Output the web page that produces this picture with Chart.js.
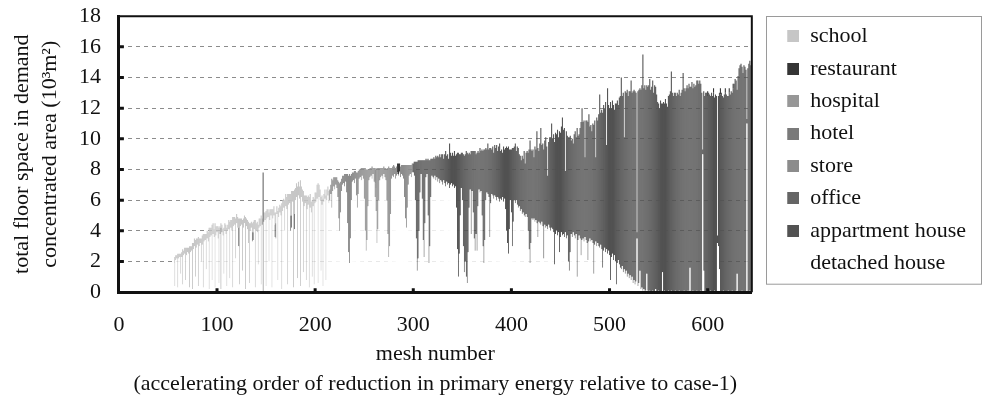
<!DOCTYPE html>
<html>
<head>
<meta charset="utf-8">
<title>total floor space in demand concentrated area</title>
<script src="https://cdn.jsdelivr.net/npm/chart.js@4.4.1/dist/chart.umd.min.js"></script>
<style>
  html, body { margin: 0; padding: 0; background: #fff; }
</style>
</head>
<body>
<canvas id="floorChart" width="983" height="399"></canvas>
<script>
// floor space per mesh (10^3 m2), mesh number = start + index
const detachedStart = 1;
const detachedHouse = [
  // 1-20
  0.3, 0.2, 0.4, 0.3, 0.5, 0.4, 0.6, 0.5, 0.7, 0.6, 0.6, 0.8, 0.7, 0.9, 0.8, 1.0, 0.9, 1.1, 1.0, 1.2,
  // 21-40
  1.1, 1.3, 1.2, 1.4, 1.2, 1.5, 1.3, 1.4, 1.6, 1.4, 1.5, 1.7, 1.5, 1.6, 1.8, 1.6, 1.7, 1.8, 1.6, 1.9,
  // 41-60
  1.7, 1.8, 1.9, 1.7, 1.8, 1.9, 1.8, 1.9, 1.8, 1.9, 1.9, 1.8, 1.9, 1.9, 1.9, 1.9, 0.4, 2.1, 2.2, 0.3,
  // 61-80
  2.2, 2.3, 1.2, 2.3, 0.5, 2.4, 2.5, 0.8, 2.4, 2.6, 2.5, 0.3, 2.6, 2.7, 0.2, 2.8, 3.0, 1.0, 2.9, 3.1,
  // 81-100
  0.4, 3.0, 3.2, 2.0, 3.1, 0.3, 3.3, 3.4, 1.5, 3.5, 3.3, 0.2, 3.6, 3.7, 0.8, 3.8, 3.6, 0.3, 3.7, 3.9,
  // 101-120
  3.5, 0.6, 3.8, 0.2, 3.9, 3.7, 1.2, 4.0, 3.8, 0.4, 4.0, 4.1, 0.9, 4.2, 4.0, 0.3, 4.3, 4.4, 2.2, 4.5,
  // 121-140
  4.2, 3.0, 0.5, 4.3, 4.4, 1.4, 4.2, 4.5, 0.2, 4.3, 4.1, 3.2, 0.6, 4.0, 4.2, 3.3, 3.4, 4.1, 0.3, 4.0,
  // 141-160
  3.9, 1.8, 4.2, 4.3, 0.5, 4.4, 0, 4.6, 4.7, 0.4, 4.8, 4.9, 2.0, 4.7, 5.0, 0.3, 4.8, 5.0, 3.6, 3.5,
  // 161-180
  5.1, 0.8, 4.9, 5.2, 5.0, 0.2, 5.3, 5.5, 4.0, 5.6, 5.4, 0.5, 5.7, 5.8, 4.0, 4.2, 5.9, 0.3, 4.1, 6.0,
  // 181-200
  6.2, 0.9, 6.3, 6.1, 0.4, 6.2, 5.9, 1.3, 5.6, 5.8, 0.8, 5.4, 5.7, 0.3, 5.5, 5.2, 1.0, 5.6, 0.5, 5.8,
  // 201-220
  5.9, 6.1, 0.6, 6.2, 6.0, 1.4, 5.7, 0.4, 5.9, 6.1, 0.8, 6.0, 6.3, 5.8, 6.0, 6.4, 5.5, 6.6, 6.9, 6.7,
  // 221-240
  7.0, 6.8, 6.2, 4.8, 4.0, 5.2, 6.6, 7.0, 7.1, 6.9, 7.2, 6.5, 4.5, 2.6, 1.9, 3.5, 6.0, 7.2, 7.3, 7.1,
  // 241-260
  7.4, 6.3, 5.5, 6.4, 7.4, 7.5, 7.3, 7.6, 7.4, 6.1, 4.0, 2.7, 3.4, 5.6, 7.3, 7.5, 7.6, 7.4, 7.7, 7.2,
  // 261-280
  6.2, 5.3, 3.2, 4.1, 6.0, 7.3, 7.5, 7.6, 7.4, 7.7, 7.5, 7.3, 6.0, 3.8, 2.3, 3.0, 5.1, 7.4, 7.6, 7.5,
  // 281-300
  7.7, 7.4, 7.6, 7.7, 7.6, 7.8, 7.5, 7.7, 7.6, 7.4, 6.2, 4.8, 4.2, 5.5, 7.0, 7.6, 7.7, 7.5, 7.8, 7.8,
  // 301-320
  7.6, 6.0, 3.5, 1.4, 2.2, 4.0, 6.5, 7.7, 6.1, 3.4, 2.3, 4.5, 7.5, 7.7, 5.0, 1.9, 3.0, 6.2, 7.6, 7.5,
  // 321-340
  7.4, 7.6, 7.3, 7.5, 7.2, 7.4, 7.1, 7.3, 7.2, 7.0, 7.3, 7.1, 6.9, 7.2, 7.0, 7.1, 6.8, 7.0, 7.1, 6.9,
  // 341-360
  7.0, 6.8, 6.9, 5.5, 2.8, 1.0, 2.5, 5.0, 6.8, 6.0, 3.0, 1.3, 2.0, 1.0, 0.6, 2.6, 5.5, 6.7, 3.8, 6.6,
  // 361-380
  5.2, 3.5, 2.7, 3.8, 2.7, 5.6, 6.7, 6.5, 6.6, 5.0, 3.0, 1.9, 3.4, 6.0, 6.5, 6.4, 6.2, 3.6, 5.8, 6.4,
  // 381-400
  6.3, 6.1, 6.3, 6.2, 6.0, 6.2, 6.1, 5.9, 6.1, 6.0, 6.2, 5.9, 6.1, 5.4, 4.0, 3.2, 2.5, 4.1, 6.0, 5.2,
  // 401-420
  3.0, 4.6, 6.0, 5.8, 6.0, 5.7, 5.5, 5.6, 5.3, 5.4, 5.1, 5.2, 5.0, 4.9, 5.1, 4.9, 4.0, 2.8, 1.9, 3.2,
  // 421-440
  4.8, 4.7, 4.8, 4.6, 4.7, 4.5, 3.6, 4.6, 4.5, 4.4, 4.6, 4.3, 2.2, 4.4, 4.2, 4.3, 4.1, 4.4, 4.2, 4.0,
  // 441-460
  4.2, 4.1, 3.9, 1.8, 3.8, 4.0, 3.7, 3.9, 2.6, 3.6, 3.9, 3.7, 3.8, 3.6, 3.9, 3.5, 3.7, 2.0, 1.4, 2.6,
  // 461-480
  3.8, 3.6, 3.9, 3.7, 3.5, 3.8, 1.0, 3.4, 3.7, 3.5, 2.4, 3.4, 3.5, 3.3, 3.6, 3.4, 3.2, 2.1, 3.3, 3.5,
  // 481-500
  3.3, 3.4, 3.2, 1.2, 3.1, 3.3, 3.0, 3.2, 3.0, 2.9, 3.1, 2.8, 1.6, 2.7, 2.9, 2.6, 2.8, 2.5, 2.7, 2.4,
  // 501-520
  0.8, 2.3, 2.5, 2.1, 2.4, 2.0, 0.5, 1.9, 2.1, 1.8, 1.6, 1.5, 1.7, 1.3, 1.5, 1.2, 1.4, 1.0, 1.2, 0.9,
  // 521-540
  1.1, 0.8, 1.0, 0.6, 0.8, 0.5, 0.7, 3.5, 0.4, 0.6, 1.4, 0.2, 0.3, 0.1, 0.2, 0.1, 0.1, 1.2, 0.1, 0,
  // 541-560
  0.1, 0, 0, 0.1, 0, 0, 0.2, 0, 0, 0.1, 0, 0, 0, 1.3, 0, 0.1, 0, 0, 0, 0.1,
  // 561-580
  0, 0, 0.1, 0, 0, 0, 0.1, 0, 0, 0, 0.1, 0, 0, 0, 0, 0.1, 0, 0, 0, 0.1,
  // 581-600
  0, 1.6, 0, 0, 0.1, 0, 0, 0, 0.1, 0, 0, 0, 0.1, 0, 9.0, 1.4, 0, 0, 0.1, 0,
  // 601-620
  0, 0, 0.1, 0, 0, 0, 0.1, 0, 0, 3.2, 3.0, 1.5, 0, 0, 0, 0.1, 0, 0, 0, 0,
  // 621-640
  0.1, 0, 0, 0, 0.1, 0, 0, 0, 0.1, 1.2, 0, 0, 0, 0, 0.1, 0, 0, 0, 0, 11.0,
  // 641-645
  0, 0, 0.1, 0, 0
];

const schoolStart = 57;
const school = [
  // 57-60
  1.9, 0.3, 0.2, 2.2,
  // 61-80
  0.3, 0.2, 1.3, 0.3, 2.3, 0.3, 0.4, 2.1, 0.5, 0.3, 0.4, 2.7, 0.4, 0.3, 3.0, 0.4, 0.5, 2.4, 0.6, 0.4,
  // 81-100
  3.2, 0.5, 0.3, 1.5, 0.6, 3.5, 0.5, 0.4, 2.3, 0.5, 0.6, 4.0, 0.6, 0.5, 3.6, 0.7, 0.5, 4.2, 0.6, 0.4,
  // 101-120
  0.8, 3.6, 0.5, 0.3, 0.5, 0.4, 3.0, 0.5, 0.6, 3.8, 0.4, 0.6, 3.7, 0.5, 0.7, 4.6, 0.6, 0.5, 2.6, 0.6,
  // 121-140
  0.7, 0.6, 4.3, 0.5, 0.4, 3.3, 0.6, 0.5, 4.7, 0.5, 0.6, 1.4, 3.9, 0.5, 0.4, 0.6, 0.7, 0.6, 4.4, 0.5,
  // 141-160
  0.7, 2.6, 0.6, 0.5, 4.5, 0.4, 0, 0.6, 0.5, 4.9, 0.6, 0.5, 3.2, 0.7, 0.4, 5.1, 0.6, 0.6, 0.8, 0.7,
  // 161-180
  0.5, 4.5, 0.6, 0.5, 0.6, 5.6, 0.7, 0.6, 2.0, 0.8, 0.8, 5.9, 0.7, 0.6, 1.4, 1.6, 0.7, 6.3, 1.6, 0.8,
  // 181-200
  0.9, 6.0, 0.9, 0.8, 6.9, 0.7, 0.8, 5.3, 0.7, 0.5, 5.5, 0.8, 0.6, 5.9, 0.9, 0.7, 5.0, 0.6, 5.6, 0.7,
  // 201-214
  0.6, 0.9, 6.5, 0.8, 0.7, 4.8, 0.6, 5.7, 0.5, 0.6, 5.5, 0.7, 0.6, 0.8
];

const storeStart = 215;
const store = [
  // 215-220
  0.7, 0.6, 1.9, 0.7, 0.6, 0.8,
  // 221-240
  0.5, 0.7, 1.1, 2.4, 3.1, 2.0, 0.8, 0.6, 0.5, 0.8, 0.5, 1.2, 3.2, 5.0, 5.8, 4.1, 1.7, 0.6, 0.5, 0.8,
  // 241-260
  0.5, 1.5, 2.3, 1.5, 0.6, 0.5, 0.8, 0.5, 0.7, 2.0, 4.1, 5.3, 4.6, 2.4, 0.7, 0.6, 0.5, 0.8, 0.4, 0.9,
  // 261-280
  0.9, 1.5, 4.9, 4.0, 1.2, 0.8, 0.6, 0.5, 0.7, 0.5, 0.6, 0.8, 2.0, 4.3, 5.9, 5.1, 3.0, 0.7, 0.6, 0.8,
  // 281-299
  0.5, 0.7, 0.6, 0.1, 0.1, 0.1, 0.7, 0.6, 0.7, 0.9, 2.1, 3.5, 4.1, 2.8, 1.3, 0.7, 0.6, 0.8, 0.6
];

const appartmentStart = 300;
const appartmentHouse = [
  // 300
  0.6,
  // 301-320
  0.9, 2.5, 5.0, 7.1, 6.4, 4.6, 2.1, 0.9, 2.5, 5.2, 6.3, 4.1, 1.2, 0.9, 3.7, 6.7, 5.6, 2.5, 1.1, 1.2,
  // 321-340
  1.4, 1.1, 1.6, 1.3, 1.7, 1.4, 1.9, 1.5, 1.8, 2.0, 1.4, 1.9, 2.3, 1.7, 2.0, 1.6, 2.9, 2.1, 1.8, 2.2,
  // 341-360
  1.9, 2.4, 2.0, 3.5, 6.3, 8.1, 6.5, 4.0, 2.3, 3.1, 6.0, 7.6, 7.0, 8.2, 8.5, 6.4, 3.6, 2.3, 5.4, 2.6,
  // 361-380
  4.0, 5.7, 6.5, 5.2, 6.4, 3.6, 2.4, 2.9, 2.6, 4.3, 6.2, 7.4, 5.9, 3.4, 2.8, 3.3, 3.1, 5.8, 3.6, 2.9,
  // 381-400
  3.2, 3.0, 3.3, 3.2, 3.6, 3.0, 3.4, 3.8, 3.1, 3.3, 2.9, 3.6, 3.2, 4.0, 5.5, 6.2, 7.0, 5.2, 3.3, 4.1,
  // 401-420
  6.4, 4.8, 3.5, 3.9, 3.2, 3.8, 3.9, 3.4, 3.6, 3.2, 3.8, 3.5, 4.2, 3.5, 4.0, 4.3, 5.1, 6.5, 8.0, 6.1,
  // 421-440
  4.4, 4.6, 4.0, 4.9, 4.6, 6.0, 5.8, 4.6, 5.2, 6.3, 5.0, 5.4, 7.1, 5.5, 5.9, 5.2, 3.5, 5.4, 5.9, 6.1,
  // 441-460
  6.8, 5.9, 6.4, 8.0, 6.6, 6.3, 6.9, 6.2, 7.9, 6.8, 6.9, 7.7, 6.8, 7.1, 4.0, 7.0, 6.5, 8.1, 8.7, 7.6,
  // 461-480
  6.1, 6.4, 5.8, 6.6, 7.0, 6.3, 9.7, 6.8, 6.6, 7.2, 8.7, 8.6, 7.6, 7.9, 5.2, 7.8, 8.0, 9.0, 8.3, 7.3,
  // 481-500
  7.6, 7.1, 7.8, 9.7, 8.1, 5.5, 8.4, 8.0, 8.6, 10.0, 8.6, 9.1, 10.1, 9.5, 9.1, 9.8, 6.8, 10.8, 9.5, 9.6,
  // 501-520
  11.6, 9.7, 10.0, 10.1, 9.5, 10.3, 11.8, 10.6, 10.1, 10.9, 11.2, 12.5, 11.1, 11.7, 8.6, 11.9, 11.6, 12.2, 11.6, 12.2,
  // 521-540
  12.0, 13.0, 12.0, 12.5, 12.4, 12.6, 12.3, 0.4, 12.7, 12.6, 11.9, 13.0, 13.2, 15.4, 13.1, 13.4, 13.1, 12.3, 13.3, 13.5,
  // 541-560
  13.8, 13.2, 13.4, 13.7, 13.0, 13.5, 13.2, 12.9, 12.4, 12.2, 12.0, 12.5, 12.3, 11.0, 12.4, 12.2, 12.6, 12.3, 12.1, 12.7,
  // 561-580
  12.9, 13.1, 14.3, 13.0, 12.8, 13.0, 12.9, 12.8, 13.0, 12.9, 13.1, 12.8, 13.0, 13.2, 14.3, 13.2, 13.1, 13.3, 13.5, 13.2,
  // 581-600
  13.6, 11.8, 13.4, 13.7, 13.2, 13.6, 13.4, 13.5, 13.7, 13.8, 13.6, 13.8, 13.5, 13.0, 0.3, 11.7, 12.8, 13.0, 12.9, 12.8,
  // 601-620
  13.0, 12.9, 12.7, 13.0, 12.8, 13.0, 12.6, 12.9, 12.8, 0.5, 9.8, 11.5, 12.9, 13.0, 12.8, 12.6, 12.9, 13.0, 12.9, 12.8,
  // 621-640
  12.7, 13.0, 12.9, 13.1, 12.9, 13.3, 13.6, 13.9, 13.7, 12.0, 14.1, 14.6, 14.8, 14.9, 14.6, 14.3, 14.8, 14.7, 14.5, 0.3,
  // 641-645
  14.6, 14.9, 15.0, 14.8, 14.9
];

// sparse series: [mesh number, value]
const office = [[147, 7.8]];
const hotel = [[122, 1.2], [136, 0.6], [137, 0.5], [159, 0.8], [160, 1.0], [175, 1.0], [176, 0.8], [179, 1.0],
  [261, 1.0], [262, 1.2], [265, 0.9]];
const hospital = [[104, 4.0]];
const restaurant = [[284, 0.6], [285, 0.7], [286, 0.5], [600, 0.3], [606, 0.3], [613, 0.4], [618, 0.3], [622, 0.3], [626, 0.3]];

const yTicks = [0, 2, 4, 6, 8, 10, 12, 14, 16, 18];
const xTicks = [0, 100, 200, 300, 400, 500, 600];

const toPoints = (start, values) => values.map((v, i) => ({ x: start + i, y: v }));
const fromPairs = pairs => pairs.map(p => ({ x: p[0], y: p[1] }));

// bottom of the stack first
const series = [
  { label: 'detached house', data: toPoints(detachedStart, detachedHouse), color: '#ffffff' },
  { label: 'appartment house', data: toPoints(appartmentStart, appartmentHouse), color: '#525252' },
  { label: 'office', data: fromPairs(office), color: '#656565' },
  { label: 'store', data: toPoints(storeStart, store), color: '#8c8c8c' },
  { label: 'hotel', data: fromPairs(hotel), color: '#7a7a7a' },
  { label: 'hospital', data: fromPairs(hospital), color: '#979797' },
  { label: 'restaurant', data: fromPairs(restaurant), color: '#353535' },
  { label: 'school', data: toPoints(schoolStart, school), color: '#c6c6c6' }
];

// legend swatch drawn at the right end of a wider box, so the text sits where the original has it
function swatch(color) {
  const c = document.createElement('canvas');
  c.width = 37;
  c.height = 12;
  if (color !== '#ffffff') {
    const g = c.getContext('2d');
    g.fillStyle = color;
    g.fillRect(25, 0, 12, 12);
  }
  return c;
}
const swatches = series.map(s => swatch(s.color));

const frame = {
  id: 'frame',
  afterDraw(chart) {
    const { ctx, chartArea: a, scales } = chart;
    ctx.save();
    ctx.strokeStyle = '#111';
    ctx.lineWidth = 2;
    ctx.beginPath();
    ctx.moveTo(a.left, a.top);
    ctx.lineTo(a.right, a.top);
    ctx.lineTo(a.right, a.bottom);
    ctx.stroke();

    // small inward tick marks
    ctx.lineWidth = 3;
    ctx.beginPath();
    yTicks.forEach(v => {
      if (v > 0 && v < 18) {
        const py = scales.y.getPixelForValue(v);
        ctx.moveTo(a.left, py);
        ctx.lineTo(a.left + 5, py);
      }
    });
    xTicks.forEach(v => {
      if (v > 0) {
        const px = scales.x.getPixelForValue(v);
        ctx.moveTo(px, a.bottom);
        ctx.lineTo(px, a.bottom - 4);
      }
    });
    ctx.stroke();

    // box round the legend
    const hb = chart.legend.legendHitBoxes;
    const last = hb[hb.length - 1];
    const fx = Math.round(a.right) + 14.5;
    const fy = Math.round(a.top) + 0.5;
    ctx.strokeStyle = '#9a9a9a';
    ctx.lineWidth = 1;
    ctx.strokeRect(fx, fy, chart.width - 1.5 - fx, last.top + last.height + 10 - fy);
    ctx.restore();
  }
};

Chart.defaults.font.family = "'Liberation Serif', 'Times New Roman', serif";
Chart.defaults.color = '#111';

new Chart(document.getElementById('floorChart').getContext('2d'), {
  type: 'bar',
  data: {
    datasets: series.map(s => ({
      label: s.label,
      data: s.data,
      backgroundColor: s.color,
      borderWidth: 0,
      barPercentage: 1.1,
      categoryPercentage: 1
    }))
  },
  options: {
    responsive: false,
    animation: false,
    layout: { padding: { top: 0, right: 7, bottom: 0, left: 0 } },
    scales: {
      x: {
        type: 'linear',
        stacked: true,
        min: 0,
        max: 645,
        offset: false,
        grid: {
          display: true,
          drawOnChartArea: false,
          drawTicks: true,
          tickLength: 19,
          tickColor: 'rgba(0,0,0,0)',
          color: 'rgba(0,0,0,0)',
          offset: false
        },
        border: { display: true, color: '#111', width: 3, z: 1 },
        afterBuildTicks: axis => { axis.ticks = xTicks.map(v => ({ value: v })); },
        ticks: { padding: 3, maxRotation: 0, autoSkip: false, font: { size: 22, lineHeight: 1 } },
        title: {
          display: true,
          text: ['mesh number', '(accelerating order of reduction in primary energy relative to case-1)'],
          font: { size: 22, lineHeight: 1.36 },
          padding: 0
        }
      },
      y: {
        stacked: true,
        min: 0,
        max: 18,
        afterBuildTicks: axis => { axis.ticks = yTicks.map(v => ({ value: v })); },
        ticks: { padding: 3, autoSkip: false, font: { size: 22 } },
        grid: {
          drawTicks: true,
          tickLength: 15,
          tickColor: 'rgba(0,0,0,0)',
          lineWidth: 1,
          color: ctx => (ctx.tick && ctx.tick.value > 0 && ctx.tick.value < 18) ? '#8c8c8c' : 'rgba(0,0,0,0)'
        },
        border: { display: true, color: '#111', width: 3, z: 1, dash: [4, 4] },
        title: {
          display: true,
          text: ['total floor space in demand', 'concentrated area (10³m²)'],
          font: { size: 22, lineHeight: 1.27 },
          padding: { top: 8, bottom: 12 }
        }
      }
    },
    plugins: {
      tooltip: { enabled: false },
      legend: {
        position: 'right',
        align: 'start',
        reverse: true,
        title: { display: true, text: '', font: { size: 10 }, padding: { top: 3, bottom: 0 } },
        labels: {
          font: { size: 22 },
          color: '#111',
          padding: 10.4,
          usePointStyle: true,
          pointStyleWidth: 37,
          boxHeight: 12,
          generateLabels(chart) {
            const items = Chart.defaults.plugins.legend.labels.generateLabels(chart);
            items.forEach(item => { item.pointStyle = swatches[item.datasetIndex]; });
            return items;
          }
        }
      }
    }
  },
  plugins: [frame]
});
</script>
</body>
</html>
